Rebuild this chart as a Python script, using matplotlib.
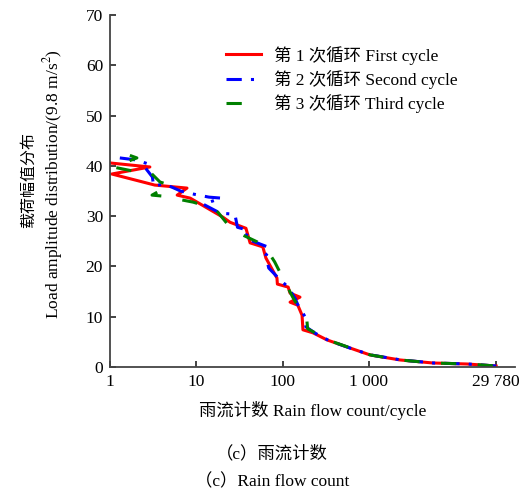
import matplotlib
matplotlib.use("Agg")
import matplotlib.pyplot as plt

plt.rcParams['font.family'] = ['Liberation Serif', 'Noto Sans CJK SC']
plt.rcParams['mathtext.fontset'] = 'stix'

# rain flow counts (cycles) vs load amplitude, three test cycles
count_1 = [1.0, 2.9, 1.05, 3.3, 7.8, 6.0, 8.5, 20.4, 24.6, 37.6, 42, 59, 64, 86, 87,
           116, 122, 159, 122, 150, 168, 172, 225, 326, 600, 1030, 2300, 5500, 13700, 29780]
amp_1 = [40.6, 39.8, 38.4, 36.2, 35.6, 34.2, 33.6, 29.8, 28.8, 27.6, 24.7, 23.9, 21.7, 17.7, 16.5,
         15.9, 14.7, 13.9, 12.9, 12.3, 10.3, 7.4, 6.8, 5.4, 3.8, 2.4, 1.4, 0.8, 0.6, 0.2]

count_2 = [1.3, 2.0, 2.9, 2.6, 3.1, 3.2, 4.2, 5.2, 6.6, 9.3, 14, 19.5, 12, 19, 28, 30, 40, 37,
           67, 70, 64, 69, 94, 116, 140, 150, 182, 186, 240, 340, 620, 1050, 2350, 5600, 14000, 29780]
amp_2 = [41.6, 41.2, 40.3, 39.5, 37.8, 36.0, 36.4, 35.8, 35.0, 34.4, 33.8, 33.6, 32.4, 30.6, 30.4,
         27.8, 27.2, 25.6, 23.9, 22.9, 22.3, 19.7, 17.3, 15.9, 13.6, 12.4, 10.0, 8.0, 6.7, 5.3,
         3.7, 2.4, 1.4, 0.8, 0.6, 0.2]

count_3 = [1.7, 2.05, 1.08, 2.1, 2.9, 3.8, 4.96, 3.07, 4.1, 7.0, 9.2, 15.6, 17.8, 24.6, 29.6,
           50.7, 66, 81, 98, 131, 145, 191, 195, 250, 330, 610, 1040, 2300, 5500, 13900, 29780]
amp_3 = [42.1, 41.6, 39.8, 38.8, 38.8, 36.8, 36.2, 34.2, 34.0, 33.2, 32.8, 31.6, 30.8, 27.8, 26.8,
         24.9, 23.3, 20.9, 18.1, 13.9, 12.6, 9.3, 7.6, 6.6, 5.4, 3.8, 2.4, 1.4, 0.8, 0.6, 0.2]

series_labels = ['第 1 次循环 First cycle', '第 2 次循环 Second cycle', '第 3 次循环 Third cycle']

x_ticks = [1, 10, 100, 1000, 29780]
x_ticklabels = ['1', '10', '100', '1 000', '29 780']
y_ticks = [0, 10, 20, 30, 40, 50, 60, 70]

fig = plt.figure(figsize=(5.21, 4.90), dpi=100)
ax = fig.add_axes([0.2111, 0.251, 0.777, 0.718])

ax.plot(count_1, amp_1, color='#ff0000', lw=2.2, label=series_labels[0])
ax.plot(count_2, amp_2, color='#0000ff', lw=2.2, dashes=(5, 3, 1, 3), label=series_labels[1])
ax.plot(count_3, amp_3, color='#008000', lw=2.2, dashes=(5, 7), label=series_labels[2])

ax.set_xscale('log')
ax.set_xlim(1, 49000)
ax.set_ylim(0, 70)
ax.set_xticks(x_ticks)
ax.set_xticklabels(x_ticklabels)
ax.minorticks_off()
ax.set_yticks(y_ticks)

for side in ['top', 'right']:
    ax.spines[side].set_visible(False)
for side in ['left', 'bottom']:
    ax.spines[side].set_color('#444444')
    ax.spines[side].set_linewidth(1.3)
ax.tick_params(direction='in', length=4, width=1.2, color='#222222', labelsize=12.5, pad=5)

ax.set_xlabel('雨流计数 Rain flow count/cycle', fontsize=12.5, labelpad=8)

fig.text(29 / 521, 0.632, '载荷幅值分布', rotation=90, ha='center', va='center', fontsize=11.5)
fig.text(53 / 521, 0.625, 'Load amplitude distribution/(9.8 m/s$^2$)', rotation=90,
         ha='center', va='center', fontsize=12.5)

leg = ax.legend(loc='upper left', bbox_to_anchor=(226 / 521, 0.907), bbox_transform=fig.transFigure,
                frameon=False, fontsize=12.5, handlelength=2.0, handletextpad=0.75,
                labelspacing=0.3, borderpad=0, borderaxespad=0)

fig.text(272 / 521, (490 - 454) / 490, '（c）雨流计数', ha='center', va='center', fontsize=12.5)
fig.text(272 / 521, (490 - 482) / 490, '（c）Rain flow count', ha='center', va='center', fontsize=12.5)

fig.savefig('out.png', dpi=100)
